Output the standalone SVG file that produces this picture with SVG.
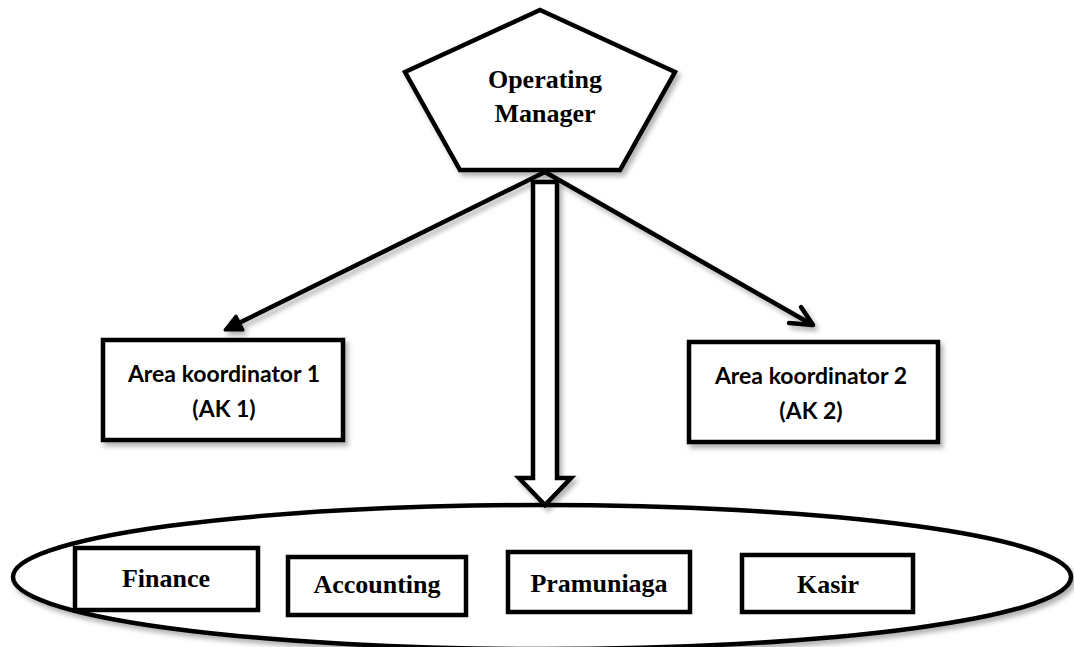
<svg xmlns="http://www.w3.org/2000/svg" width="1074" height="647" viewBox="0 0 1074 647">
<style>
.shape{fill:#fff;stroke:#000;stroke-width:4.5;stroke-linejoin:miter}
.box{fill:#fff;stroke:#000;stroke-width:4.5}
.conn{fill:none;stroke:#000;stroke-width:4.5;stroke-linecap:round;stroke-linejoin:round}
.serif{font-family:"Liberation Serif","Times New Roman",serif;font-weight:bold;font-size:26px;fill:#000;text-anchor:middle}
.sans{font-family:Lato,"Liberation Sans",sans-serif;font-weight:bold;font-size:23px;fill:#000;text-anchor:middle}
</style>
<defs>
<filter id="sh" x="-20%" y="-20%" width="140%" height="150%">
<feDropShadow dx="3" dy="4" stdDeviation="2.5" flood-color="#000" flood-opacity="0.3"/>
</filter>
</defs>
<rect width="1074" height="647" fill="#fff"/>
<g id="bottom-group">
<ellipse cx="542" cy="577" rx="529" ry="72" class="shape" filter="url(#sh)"/>
</g>
<g id="connectors" filter="url(#sh)">
<path class="conn" d="M545,172 L239,323"/>
<path d="M225,330 L243,330 L236,316 Z" fill="#000" stroke="#000" stroke-width="3" stroke-linejoin="round"/>
<path class="conn" d="M545,172 L811,324"/>
<path class="conn" d="M789,323 L813,325 L801,307"/>
<path class="shape" d="M533,182 L557,182 L557,478 L571,478 L545,505 L519,478 L533,478 Z"/>
</g>
<g id="operating-manager">
<polygon class="shape" points="540,10 675,72 620,170 460,170 405,72" filter="url(#sh)"/>
<text class="serif" x="545" y="88">Operating</text>
<text class="serif" x="545" y="122">Manager</text>
</g>
<g id="ak1">
<rect class="box" x="103" y="340" width="240" height="100" filter="url(#sh)"/>
<text class="sans" x="224" y="382">Area koordinator 1</text>
<text class="sans" x="224" y="417">(AK 1)</text>
</g>
<g id="ak2">
<rect class="box" x="689" y="342" width="249" height="100" filter="url(#sh)"/>
<text class="sans" x="811" y="384">Area koordinator 2</text>
<text class="sans" x="811" y="419">(AK 2)</text>
</g>
<g id="finance">
<rect class="box" x="75" y="548" width="183" height="62"/>
<text class="serif" x="166" y="587">Finance</text>
</g>
<g id="accounting">
<rect class="box" x="288" y="557" width="178" height="58"/>
<text class="serif" x="377" y="593">Accounting</text>
</g>
<g id="pramuniaga">
<rect class="box" x="508" y="552" width="182" height="60"/>
<text class="serif" x="599" y="592">Pramuniaga</text>
</g>
<g id="kasir">
<rect class="box" x="742" y="555" width="171" height="57"/>
<text class="serif" x="828" y="593">Kasir</text>
</g>
</svg>
